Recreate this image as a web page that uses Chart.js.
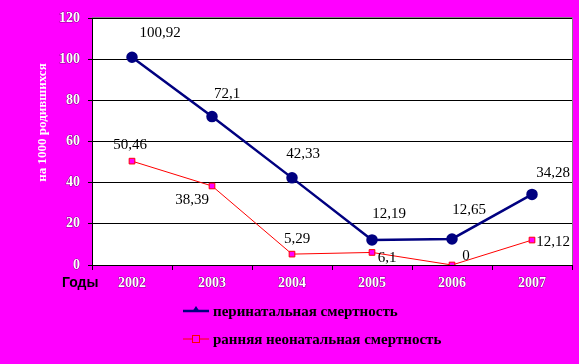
<!DOCTYPE html>
<html>
<head>
<meta charset="utf-8">
<script src="https://cdn.jsdelivr.net/npm/chart.js@4"></script>
<style>
  html, body { margin: 0; padding: 0; background: #FF00FF; }
  #wrap { width: 579px; height: 364px; }
</style>
</head>
<body>
<div id="wrap"><canvas id="chart" width="579" height="364"></canvas></div>
<script>
const years = ['2002', '2003', '2004', '2005', '2006', '2007'];
const perinatal = [100.92, 72.1, 42.33, 12.19, 12.65, 34.28];
const earlyNeonatal = [50.46, 38.39, 5.29, 6.1, 0, 12.12];
const yTicks = [0, 20, 40, 60, 80, 100, 120];

const seriesNames = ['перинатальная смертность', 'ранняя неонатальная смертность'];
const yTitle = 'на 1000 родившихся';
const xTitle = 'Годы';

// label offsets from each point (px), as they sit in the original
const labelOffsets = [
  [[28, -24], [15, -23], [11, -24], [17, -26], [17, -29], [21, -21]],
  [[-2, -16], [-20, 14], [5, -15], [15, 6], [14, -9], [21, 2]]
];

const fmt = (v) => String(v).replace('.', ',');
const serif = "'Liberation Serif', 'DejaVu Serif', serif";

const decorPlugin = {
  id: 'decor',
  beforeDraw(chart) {
    const { ctx, chartArea: a } = chart;
    ctx.save();
    ctx.fillStyle = '#FFFFFF';
    ctx.fillRect(a.left, a.top, a.right - a.left, a.bottom - a.top);
    ctx.restore();
  },
  afterDraw(chart) {
    const { ctx, chartArea: a } = chart;
    ctx.save();
    // grey frame on top and right
    ctx.strokeStyle = '#808080';
    ctx.lineWidth = 1;
    ctx.beginPath();
    ctx.moveTo(a.left, a.top - 0.5);
    ctx.lineTo(a.right + 0.5, a.top - 0.5);
    ctx.lineTo(a.right + 0.5, a.bottom);
    ctx.stroke();

    // value labels
    ctx.font = '15px ' + serif;
    ctx.fillStyle = '#000000';
    ctx.textAlign = 'center';
    ctx.textBaseline = 'middle';
    chart.data.datasets.forEach((ds, di) => {
      const meta = chart.getDatasetMeta(di);
      meta.data.forEach((pt, i) => {
        const off = labelOffsets[di][i];
        ctx.fillText(fmt(ds.data[i]), pt.x + off[0], pt.y + off[1]);
      });
    });

    // y title
    ctx.save();
    ctx.translate(43, (a.top + a.bottom) / 2 - 19);
    ctx.rotate(-Math.PI / 2);
    ctx.font = 'bold 13px ' + serif;
    ctx.fillStyle = '#FFFFFF';
    ctx.textAlign = 'center';
    ctx.textBaseline = 'middle';
    ctx.fillText(yTitle, 0, 0);
    ctx.restore();

    // "Годы"
    ctx.font = 'bold 14px "Liberation Sans", Arial, sans-serif';
    ctx.fillStyle = '#000000';
    ctx.textAlign = 'left';
    ctx.textBaseline = 'middle';
    ctx.fillText(xTitle, 62, 283);

    // legend
    const items = chart.data.datasets;
    const ly = [311, 339];
    items.forEach((ds, di) => {
      const y = ly[di];
      ctx.strokeStyle = ds.borderColor;
      ctx.lineWidth = di === 0 ? 2.5 : 1;
      ctx.beginPath();
      ctx.moveTo(183, y);
      ctx.lineTo(209, y);
      ctx.stroke();
      if (di === 0) {
        ctx.fillStyle = ds.borderColor;
        ctx.beginPath();
        ctx.moveTo(196, y - 5);
        ctx.lineTo(200, y + 1);
        ctx.lineTo(192, y + 1);
        ctx.closePath();
        ctx.fill();
      } else {
        ctx.fillStyle = ds.pointBackgroundColor;
        ctx.fillRect(192.5, y - 3.5, 7, 7);
        ctx.strokeRect(192.5, y - 3.5, 7, 7);
      }
      ctx.font = 'bold 15px ' + serif;
      ctx.fillStyle = '#000000';
      ctx.textAlign = 'left';
      ctx.fillText(ds.label, 213, y + 1);
    });
    ctx.restore();
  }
};

new Chart(document.getElementById('chart'), {
  type: 'line',
  data: {
    labels: years,
    datasets: [
      {
        label: seriesNames[0],
        data: perinatal,
        borderColor: '#000080',
        backgroundColor: '#000080',
        borderWidth: 2.5,
        pointStyle: 'circle',
        pointRadius: 4.5,
        pointBackgroundColor: '#000080',
        pointBorderColor: '#000080',
        tension: 0
      },
      {
        label: seriesNames[1],
        data: earlyNeonatal,
        borderColor: '#FF0000',
        backgroundColor: '#FF00FF',
        borderWidth: 1,
        pointStyle: 'rect',
        pointRadius: 4,
        pointBackgroundColor: '#FF00FF',
        pointBorderColor: '#FF0000',
        pointBorderWidth: 1,
        tension: 0
      }
    ]
  },
  options: {
    responsive: false,
    animation: false,
    layout: { padding: { top: 18, right: 5, bottom: 69, left: 0 } },
    plugins: {
      legend: { display: false },
      tooltip: { enabled: false }
    },
    scales: {
      x: {
        type: 'category',
        offset: true,
        afterFit: (s) => { s.height = 30; },
        grid: { offset: true, drawOnChartArea: false, color: '#000000', tickLength: 5 },
        border: { color: '#000000', width: 1 },
        ticks: {
          color: '#FFFFFF',
          padding: 5,
          font: { family: serif, size: 14, weight: 'bold' },
          textStrokeColor: 'rgba(0,0,0,0.45)',
          textStrokeWidth: 1
        }
      },
      y: {
        min: yTicks[0],
        max: yTicks[yTicks.length - 1],
        afterFit: (s) => { s.width = 92; },
        afterBuildTicks: (s) => { s.ticks = yTicks.map(v => ({ value: v })); },
        grid: { color: '#000000', tickLength: 4 },
        border: { color: '#000000', width: 1 },
        ticks: {
          color: '#FFFFFF',
          padding: 8,
          font: { family: serif, size: 14, weight: 'bold' },
          textStrokeColor: 'rgba(0,0,0,0.45)',
          textStrokeWidth: 1
        }
      }
    }
  },
  plugins: [decorPlugin]
});
</script>
</body>
</html>
